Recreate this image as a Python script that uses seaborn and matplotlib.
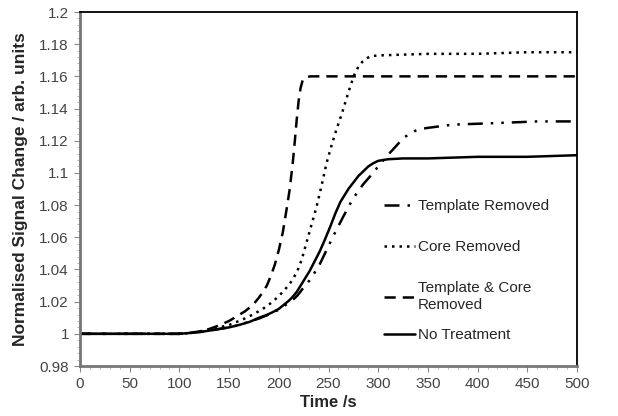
import matplotlib
matplotlib.use("Agg")
import matplotlib.pyplot as plt
import seaborn as sns
import numpy as np
from matplotlib.ticker import MultipleLocator

# ---- data ----
t_no = [0, 50, 100, 110, 120, 130, 140, 150, 160, 171, 180, 187, 194, 200, 205, 210, 214, 218, 222, 226, 231, 236, 241, 246, 252, 257, 262, 266, 270, 275, 280, 285, 290, 295, 300, 310, 325, 350, 400, 450, 500]
v_no = [1.0, 1.0, 1.0, 1.0005, 1.001, 1.002, 1.003, 1.004, 1.0055, 1.0075, 1.010, 1.0115, 1.0135, 1.0155, 1.018, 1.0205, 1.023, 1.026, 1.030, 1.034, 1.039, 1.045, 1.051, 1.058, 1.067, 1.075, 1.082, 1.086, 1.090, 1.094, 1.098, 1.101, 1.104, 1.106, 1.1075, 1.1085, 1.109, 1.109, 1.110, 1.110, 1.111]

t_tr = [0, 50, 100, 110, 120, 130, 140, 150, 160, 170, 180, 190, 200, 207, 214, 219, 224, 228, 232, 236, 241, 248, 255, 260, 265, 272, 279, 285, 292, 300, 308, 317, 325, 332, 340, 350, 375, 420, 460, 500]
v_tr = [1.0, 1.0, 1.0, 1.0005, 1.001, 1.002, 1.003, 1.004, 1.0055, 1.0075, 1.0095, 1.012, 1.015, 1.018, 1.021, 1.024, 1.028, 1.031, 1.034, 1.038, 1.043, 1.052, 1.061, 1.067, 1.073, 1.081, 1.088, 1.093, 1.098, 1.104, 1.110, 1.116, 1.1215, 1.1245, 1.127, 1.128, 1.130, 1.131, 1.132, 1.132]

t_cr = [0, 50, 100, 110, 120, 130, 140, 150, 164, 174, 184, 194, 204, 211, 218, 223, 228, 233, 238, 243, 248, 253, 258, 263, 268, 272, 276, 280, 284, 288, 292, 300, 350, 400, 450, 500]
v_cr = [1.0, 1.0, 1.0, 1.0005, 1.0015, 1.0025, 1.004, 1.0055, 1.009, 1.012, 1.0155, 1.020, 1.026, 1.031, 1.038, 1.046, 1.057, 1.068, 1.079, 1.092, 1.106, 1.117, 1.127, 1.136, 1.146, 1.154, 1.161, 1.166, 1.169, 1.171, 1.1725, 1.173, 1.174, 1.174, 1.175, 1.175]

t_tc = [0, 50, 100, 110, 120, 130, 141, 150, 158, 166, 174, 180, 184, 188, 192, 196, 200, 204, 208, 211, 214, 216, 218, 220, 222, 224, 227, 232, 260, 300, 400, 500]
v_tc = [1.0, 1.0, 1.0, 1.0005, 1.0015, 1.003, 1.0055, 1.008, 1.011, 1.014, 1.018, 1.0225, 1.026, 1.030, 1.036, 1.043, 1.052, 1.063, 1.078, 1.090, 1.106, 1.119, 1.133, 1.145, 1.153, 1.1575, 1.1595, 1.160, 1.160, 1.160, 1.160, 1.160]

labels = ["Template Removed", "Core Removed", "Template & Core\nRemoved", "No Treatment"]
x_label = "Time /s"
y_label = "Normalised Signal Change / arb. units"
y_tick_labels = ["0.98", "1", "1.02", "1.04", "1.06", "1.08", "1.1", "1.12", "1.14", "1.16", "1.18", "1.2"]

sns.set_style("white")
plt.rcParams['font.family'] = ['Liberation Sans', 'DejaVu Sans']

fig = plt.figure(figsize=(6.18, 4.16), dpi=100)
ax = fig.add_axes([80/618, 1 - 366/416, 497/618, 354/416])

lw = 1.8
sns.lineplot(x=t_tr, y=v_tr, ax=ax, color="black", lw=lw, label=labels[0],
             linestyle=(0, (6, 3.2, 1, 3.2, 1, 3.2)))
sns.lineplot(x=t_cr, y=v_cr, ax=ax, color="black", lw=lw, label=labels[1],
             linestyle=(0, (1, 2)))
sns.lineplot(x=t_tc, y=v_tc, ax=ax, color="black", lw=lw, label=labels[2],
             linestyle=(0, (4.5, 2.8)))
sns.lineplot(x=t_no, y=v_no, ax=ax, color="black", lw=lw, label=labels[3],
             linestyle="-")

ax.set_xlim(0, 500)
ax.set_ylim(0.98, 1.2)
ax.xaxis.set_major_locator(MultipleLocator(50))
ax.xaxis.set_minor_locator(MultipleLocator(10))
ax.yaxis.set_minor_locator(MultipleLocator(0.004))
ax.set_yticks(np.arange(0.98, 1.2001, 0.02))
ax.set_yticklabels(y_tick_labels)

ax.tick_params(axis="both", which="major", direction="out", length=4, width=0.8,
               color="#888888", labelsize=11, labelcolor="#444444", pad=4)
ax.tick_params(axis="both", which="minor", direction="out", length=2, width=0.6,
               color="#aaaaaa")
ax.tick_params(axis="x", which="both", bottom=True)
ax.tick_params(axis="y", which="both", left=True)

for side in ["left", "bottom"]:
    ax.spines[side].set_color("#777777")
    ax.spines[side].set_linewidth(2)
for side in ["top", "right"]:
    ax.spines[side].set_color("black")
    ax.spines[side].set_linewidth(1.3)

ax.set_xlabel(x_label, fontsize=12, fontweight="bold", labelpad=3)
ax.set_ylabel(y_label, fontsize=12.5, fontweight="bold", labelpad=8)

handles, lbls = ax.get_legend_handles_labels()
leg_kw = dict(frameon=False, fontsize=11, handlelength=2.0, handletextpad=0.2,
              borderaxespad=0)
leg1 = ax.legend(handles[:3], lbls[:3], loc="upper left",
                 bbox_to_anchor=(0.6, 0.489), labelspacing=1.78, **leg_kw)
ax.add_artist(leg1)
ax.legend(handles[3:], lbls[3:], loc="center left",
          bbox_to_anchor=(0.6, (366 - 335) / 354), **leg_kw)

fig.savefig("out.png", dpi=100)
